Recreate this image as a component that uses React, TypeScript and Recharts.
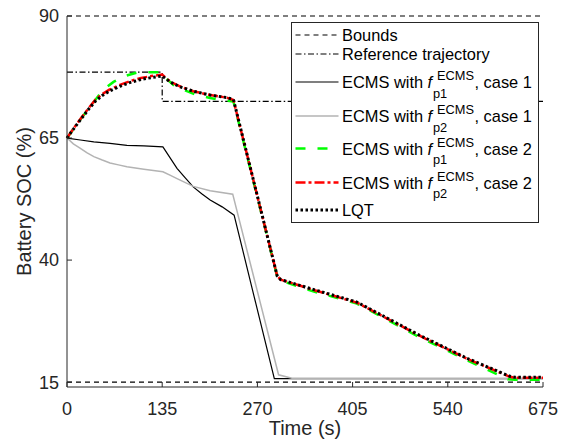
import React from "react";
import { LineChart, Line, XAxis, YAxis, Legend } from "recharts";

const xTicks = [0, 135, 270, 405, 540, 675];
const yTicks = [15, 40, 65, 90];

const boundT = [0, 675];
const upperBound = [90, 90];
const lowerBound = [15, 15];

const refT = [0, 135, 135, 675];
const refSoc = [78.5, 78.5, 72.5, 72.5];

const p1Case1T = [0, 19, 38, 61, 85, 109, 136, 146, 156, 168, 179, 191, 203, 220, 237, 294, 675];
const p1Case1Soc = [65, 64.6, 64.2, 63.9, 63.5, 63.4, 63.2, 61.0, 58.8, 56.8, 55.0, 53.6, 52.3, 50.9, 49.2, 15.7, 15.7];

const p2Case1T = [0, 9, 19, 28, 38, 50, 61, 73, 85, 109, 136, 146, 156, 179, 203, 235, 300, 319, 675];
const p2Case1Soc = [65, 63.8, 62.9, 62.0, 61.2, 60.5, 59.9, 59.5, 59.1, 58.6, 58.1, 57.4, 56.7, 55.1, 54.2, 53.5, 16.5, 15.8, 15.8];

const p1Case2T = [0, 10, 20, 30, 38, 47, 56, 66, 80, 99, 115, 135, 140, 153, 170, 184, 203, 222, 236, 298, 303, 349, 411, 500, 567, 625, 635, 675];
const p1Case2Soc = [65, 67.0, 69.0, 70.9, 72.4, 74.1, 75.4, 76.5, 77.6, 78.4, 78.5, 78.5, 77.3, 75.6, 74.6, 73.8, 73.2, 72.7, 72.5, 36.7, 35.8, 33.6, 31.1, 24.2, 19.5, 15.6, 15.5, 15.5];

const p2Case2T = [0, 10, 20, 30, 40, 50, 60, 75, 90, 105, 120, 135, 146, 160, 179, 203, 226, 236, 298, 303, 349, 411, 500, 567, 628, 635, 675];
const p2Case2Soc = [65, 67.1, 69.1, 71.0, 72.8, 74.0, 74.9, 75.9, 76.7, 77.3, 77.7, 78.0, 76.6, 75.6, 74.6, 73.8, 73.3, 72.8, 36.8, 36.0, 33.9, 31.3, 24.5, 19.8, 16.1, 15.9, 15.9];

const lqtT = [0, 10, 20, 30, 40, 50, 60, 75, 90, 105, 120, 135, 146, 160, 179, 203, 226, 236, 298, 303, 349, 411, 500, 567, 628, 635, 675];
const lqtSoc = [65, 67.0, 68.9, 70.8, 72.5, 73.7, 74.6, 75.6, 76.4, 77.0, 77.4, 77.7, 76.5, 75.5, 74.6, 73.8, 73.3, 72.9, 36.8, 36.0, 34.0, 31.4, 24.6, 19.9, 16.2, 16.0, 16.0];

const toPoints = (t: number[], v: number[]) => t.map((x, i) => ({ t: x, soc: v[i] }));

const axisColor = "#262626";
const font = "'Liberation Sans', Arial, Helvetica, sans-serif";

// legend rows: label parts + line style
const legendRows = [
  { text: "Bounds", stroke: "#000", width: 1.2, dash: "5 4", y: 13 },
  { text: "Reference trajectory", stroke: "#000", width: 1.2, dash: "6 2.5 1.5 2.5", y: 32 },
  { text: "ECMS with ", sub: "p1", tail: ", case 1", stroke: "#000", width: 1.2, dash: undefined, y: 60 },
  { text: "ECMS with ", sub: "p2", tail: ", case 1", stroke: "#b3b3b3", width: 1.5, dash: undefined, y: 94 },
  { text: "ECMS with ", sub: "p1", tail: ", case 2", stroke: "#00ff00", width: 2.5, dash: "10 12", y: 126.5 },
  { text: "ECMS with ", sub: "p2", tail: ", case 2", stroke: "#ff0000", width: 2.5, dash: "10 3 3 3", y: 160.5 },
  { text: "LQT", stroke: "#000", width: 3, dash: "2.5 2.5", y: 188 },
];

const LegendBox = () => (
  <svg width={248} height={201} style={{ display: "block", fontFamily: font }}>
    <rect x={0.5} y={0.5} width={247} height={200} fill="#fff" stroke={axisColor} strokeWidth={1} />
    {legendRows.map((r, i) => (
      <g key={i}>
        <line x1={4.5} x2={47.5} y1={r.y} y2={r.y} stroke={r.stroke} strokeWidth={r.width} strokeDasharray={r.dash} />
        {r.sub ? (
          <text fontSize={16.4} fill="#000">
            <tspan x={51} y={r.y + 6}>{r.text}</tspan>
            <tspan x={136.5} y={r.y + 6} fontStyle="italic">f</tspan>
            <tspan x={146} y={r.y - 2} fontSize={12.8}>ECMS</tspan>
            <tspan x={142} y={r.y + 15.5} fontSize={12.8}>{r.sub}</tspan>
            <tspan x={183.5} y={r.y + 6}>{r.tail}</tspan>
          </text>
        ) : (
          <text x={51} y={r.y + 6} fontSize={16.4} fill="#000">{r.text}</text>
        )}
      </g>
    ))}
  </svg>
);

export default function App() {
  return (
    <div style={{ position: "absolute", left: 0, top: 0, width: 565, height: 441, background: "#fff", fontFamily: font }}>
      <LineChart width={565} height={441} margin={{ top: 16, right: 22, left: 0, bottom: 0 }}>
        <XAxis
          dataKey="t"
          type="number"
          domain={[0, 675]}
          ticks={xTicks}
          height={54}
          tickSize={-5}
          tickMargin={20}
          stroke={axisColor}
          tick={{ fill: axisColor, fontSize: 18 }}
          label={{ value: "Time (s)", position: "insideBottom", offset: 6, fill: axisColor, fontSize: 20 }}
        />
        <YAxis
          dataKey="soc"
          type="number"
          domain={[14, 90]}
          ticks={yTicks}
          width={67}
          tickSize={-5}
          tickMargin={13}
          stroke={axisColor}
          tick={{ fill: axisColor, fontSize: 18 }}
          label={{ value: "Battery SOC (%)", angle: -90, position: "insideLeft", offset: 24, fill: axisColor, fontSize: 20, style: { textAnchor: "middle" } }}
        />
        <Legend
          layout="horizontal"
          align="center"
          verticalAlign="middle"
          width={248}
          height={201}
          wrapperStyle={{ left: 290.5, top: 22, width: 248, height: 201 }}
          content={() => <LegendBox />}
        />
        <Line data={toPoints(boundT, upperBound)} dataKey="soc" name="Bounds" stroke="#000" strokeWidth={1.2} strokeDasharray="5 4" dot={false} activeDot={false} isAnimationActive={false} legendType="none" />
        <Line data={toPoints(boundT, lowerBound)} dataKey="soc" name="Bounds " stroke="#000" strokeWidth={1.2} strokeDasharray="5 4" dot={false} activeDot={false} isAnimationActive={false} legendType="none" />
        <Line data={toPoints(refT, refSoc)} dataKey="soc" name="Reference trajectory" stroke="#000" strokeWidth={1.2} strokeDasharray="6 2.5 1.5 2.5" dot={false} activeDot={false} isAnimationActive={false} />
        <Line data={toPoints(p1Case1T, p1Case1Soc)} dataKey="soc" name="p1 case 1" stroke="#000" strokeWidth={1.2} dot={false} activeDot={false} isAnimationActive={false} />
        <Line data={toPoints(p2Case1T, p2Case1Soc)} dataKey="soc" name="p2 case 1" stroke="#b3b3b3" strokeWidth={1.5} dot={false} activeDot={false} isAnimationActive={false} />
        <Line data={toPoints(p1Case2T, p1Case2Soc)} dataKey="soc" name="p1 case 2" stroke="#00ff00" strokeWidth={2.5} strokeDasharray="10 12" dot={false} activeDot={false} isAnimationActive={false} />
        <Line data={toPoints(p2Case2T, p2Case2Soc)} dataKey="soc" name="p2 case 2" stroke="#ff0000" strokeWidth={2.5} strokeDasharray="10 3 3 3" dot={false} activeDot={false} isAnimationActive={false} />
        <Line data={toPoints(lqtT, lqtSoc)} dataKey="soc" name="LQT" stroke="#000" strokeWidth={3} strokeDasharray="2.5 2.5" dot={false} activeDot={false} isAnimationActive={false} />
      </LineChart>
    </div>
  );
}
